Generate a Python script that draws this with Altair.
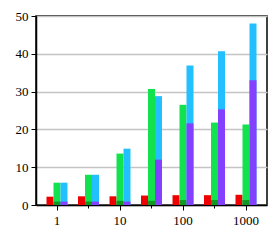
import altair as alt
import pandas as pd

# x positions (log-spaced groups), labelled only at powers of ten
groups = ["1", "3.16", "10", "31.6", "100", "316", "1000"]
major_labels = ["1", "10", "100", "1000"]

red = [2.2, 2.3, 2.3, 2.5, 2.6, 2.6, 2.7]
green = [5.9, 8.0, 13.6, 30.7, 26.5, 21.8, 21.3]
dark_green = [0.9, 0.9, 1.1, 1.1, 1.3, 1.3, 1.3]
blue = [5.9, 8.0, 14.9, 28.8, 36.9, 40.7, 48.0]
purple = [0.9, 0.9, 0.9, 12.0, 21.6, 25.3, 33.0]

series_names = ["red", "green", "blue", "dark green", "purple"]
series_colors = ["#ee0000", "#12e24e", "#22c0ff", "#109820", "#8440ff"]

rows = []
for name, vals, slot, layer in [
    ("red", red, 0, 0),
    ("green", green, 1, 0),
    ("blue", blue, 2, 0),
    ("dark green", dark_green, 1, 1),
    ("purple", purple, 2, 1),
]:
    for g, v in zip(groups, vals):
        rows.append({"group": g, "value": v, "series": name, "slot": slot, "layer": layer})
df = pd.DataFrame(rows)

font = "Liberation Serif"

x_enc = alt.X(
    "group:N",
    sort=groups,
    scale=alt.Scale(paddingInner=1 / 3, paddingOuter=1 / 3),
    axis=alt.Axis(
        title=None,
        labelAngle=0,
        labelExpr="indexof(" + str(major_labels) + ", datum.value) >= 0 ? datum.value : ''",
        tickSize={"condition": {"test": "indexof(" + str(major_labels) + ", datum.value) >= 0", "value": 5}, "value": 3},
        labelPadding=4,
        grid=False,
    ),
)
y_enc = alt.Y(
    "value:Q",
    stack=None,
    scale=alt.Scale(domain=[0, 50], nice=False),
    axis=alt.Axis(
        title=None,
        values=[0, 10, 20, 30, 40, 50],
        tickSize=5,
        labelPadding=3,
        grid=True,
        gridColor="#c4c4c4",
        gridWidth=1.5,
    ),
)
color_enc = alt.Color(
    "series:N",
    scale=alt.Scale(domain=series_names, range=series_colors),
    legend=None,
)
xoff = alt.XOffset("slot:O", scale=alt.Scale(domain=[0, 1, 2], paddingInner=0, paddingOuter=0))

base = alt.Chart(df).transform_filter("datum.layer == 0").mark_bar().encode(
    x=x_enc, y=y_enc, color=color_enc, xOffset=xoff
)
overlay = alt.Chart(df).transform_filter("datum.layer == 1").mark_bar().encode(
    x=x_enc, y=y_enc, color=color_enc, xOffset=xoff
)

chart = (
    alt.layer(base, overlay)
    .properties(
        width=231,
        height=189,
        autosize=alt.AutoSizeParams(type="none"),
        padding={"left": 28, "top": 8, "right": 5, "bottom": 30},
    )
    .configure(background="white", font=font)
    .configure_axis(
        labelFont=font,
        labelFontSize=13,
        labelColor="black",
        tickColor="black",
        domainColor="black",
        domainWidth=1.5,
    )
    .configure_view(stroke="black", strokeWidth=1.5)
)

chart.save("out.html", embed_options={"renderer": "svg", "actions": False})
